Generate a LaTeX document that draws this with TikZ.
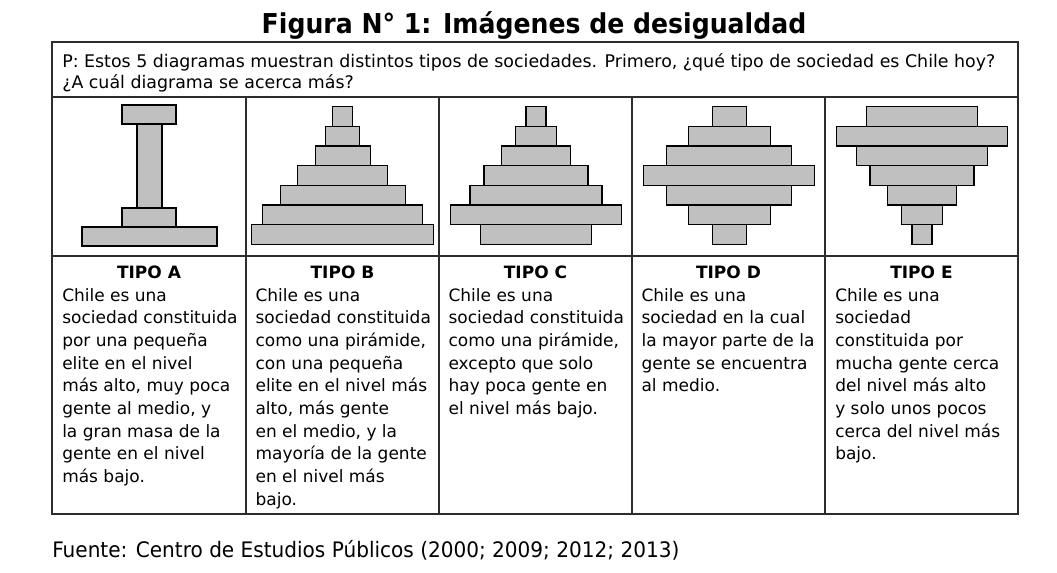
\documentclass[tikz,border=0pt]{standalone}
\usepackage{fontspec}
\setmainfont{DejaVu Sans}
\definecolor{barra}{RGB}{192,192,192}
\definecolor{borde}{RGB}{45,45,45}
\begin{document}
\begin{tikzpicture}[x=0.75pt, y=-0.75pt,
  bloque/.style={draw=black, fill=barra, line width=1pt},
  linea/.style={draw=borde, line width=1.1pt},
  tipo/.style={font=\fontsize{12.75}{17}\selectfont\bfseries, inner sep=0pt, anchor=base},
  texto/.style={font=\fontsize{12.75}{17}\selectfont, inner sep=0pt, anchor=north west, align=left}]
  \useasboundingbox (0,0) rectangle (1057,572);
  % titulo y pregunta
  \node[font=\fontsize{20.5}{24}\selectfont\bfseries, inner sep=0pt, anchor=base] (titulo) at (534,33)
    {\scalebox{0.92}[1]{Figura N° 1: Imágenes de desigualdad}};
  \node[texto, font=\fontsize{13.05}{16}\selectfont] (pregunta) at (62,53)
    {P: Estos 5 diagramas muestran distintos tipos de sociedades. Primero, ¿qué tipo de sociedad es Chile hoy?\\
     ¿A cuál diagrama se acerca más?};
  % tabla
  \draw[linea] (52,42) rectangle (1018,514);
  \draw[linea] (52,97) -- (1018,97);
  \draw[linea] (52,256) -- (1018,256);
  \foreach \x in {246,439,632,825}
    \draw[linea] (\x,97) -- (\x,514);
  % tipo A
  \draw[bloque] (137,124) rectangle (162,208);
  \draw[bloque] (122,105) rectangle (176,124);
  \draw[bloque] (122,208) rectangle (176,227);
  \draw[bloque] (82,227) rectangle (217,246);
  % tipos B a E
  \foreach \cx/\anchos in {342.8/{20,34,55,90,125,160,182},
                           536/{20,41,69,104,132,171,111},
                           729.3/{34,82,125,171,125,82,34},
                           922/{111,171,131,104,69,41,20}}
    \foreach \w [count=\i from 0] in \anchos
      \draw[bloque] ({\cx-\w/2},{106.7+19.66*\i}) rectangle ++(\w,19.66);
  % textos
  \node[tipo] (tipoA) at (149,278) {TIPO A};
  \node[tipo] (tipoB) at (342.5,278) {TIPO B};
  \node[tipo] (tipoC) at (535.5,278) {TIPO C};
  \node[tipo] (tipoD) at (728.5,278) {TIPO D};
  \node[tipo] (tipoE) at (921.5,278) {TIPO E};
  \node[texto] (textoA) at (62,288.1)
    {Chile es una\\ sociedad constituida\\ por una pequeña\\ elite en el nivel\\ más alto, muy poca\\
     gente al medio, y\\ la gran masa de la\\ gente en el nivel\\ más bajo.};
  \node[texto] (textoB) at (255.3,288.1)
    {Chile es una\\ sociedad constituida\\ como una pirámide,\\ con una pequeña\\ elite en el nivel más\\
     alto, más gente\\ en el medio, y la\\ mayoría de la gente\\ en el nivel más\\ bajo.};
  \node[texto] (textoC) at (448.3,288.1)
    {Chile es una\\ sociedad constituida\\ como una pirámide,\\ excepto que solo\\ hay poca gente en\\
     el nivel más bajo.};
  \node[texto] (textoD) at (641.3,288.1)
    {Chile es una\\ sociedad en la cual\\ la mayor parte de la\\ gente se encuentra\\ al medio.};
  \node[texto] (textoE) at (835,288.1)
    {Chile es una\\ sociedad\\ constituida por\\ mucha gente cerca\\ del nivel más alto\\
     y solo unos pocos\\ cerca del nivel más\\ bajo.};
  % fuente
  \node[font=\fontsize{16}{19}\selectfont, inner sep=0pt, anchor=base west] (fuente) at (52,557)
    {\scalebox{0.94}[1]{Fuente: Centro de Estudios Públicos (2000; 2009; 2012; 2013)}};
\end{tikzpicture}
\end{document}
